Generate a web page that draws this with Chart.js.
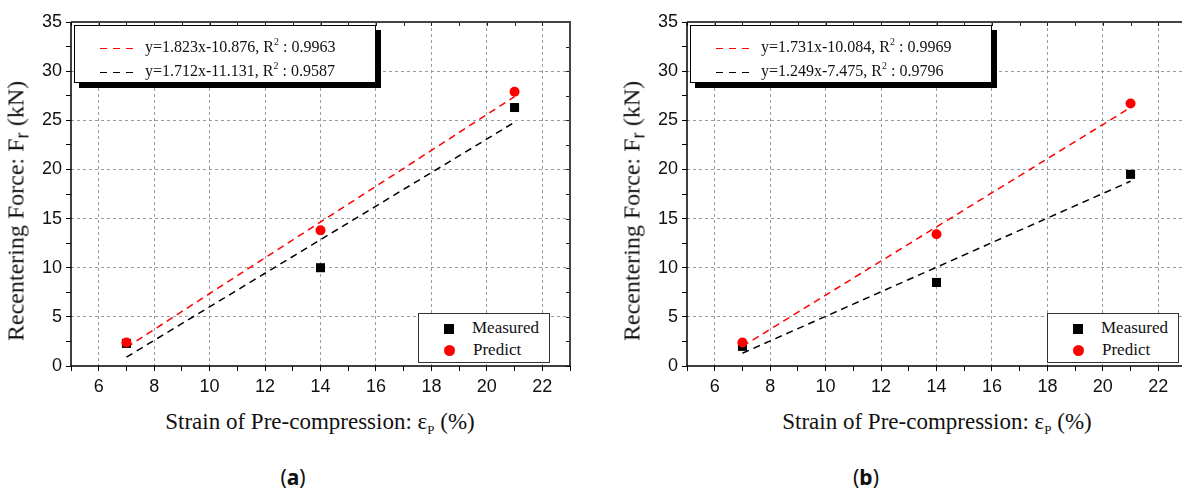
<!DOCTYPE html>
<html>
<head>
<meta charset="utf-8">
<script src="https://cdn.jsdelivr.net/npm/chart.js@4.4.1/dist/chart.umd.min.js"></script>
<style>
    html, body { margin: 0; padding: 0; background: #fff; }
    body { width: 1182px; height: 489px; position: relative; overflow: hidden; }
    canvas { position: absolute; top: 0; }
    #chart-a { left: 0; }
    #chart-b { left: 616px; }
    .title { position: absolute; white-space: nowrap; font-family: "Liberation Serif", "Times New Roman", serif; color: #111; transform: translate(-50%, -50%); }
    .title sub { font-size: 13px; vertical-align: -5px; }
    .ytitle { font-size: 24px; transform: translate(-50%, -50%) rotate(-90deg); }
    .ytitle sub { font-size: 19px; vertical-align: -5px; font-family: "Liberation Sans", sans-serif; }
    .xtitle { font-size: 23px; }
    .panel { position: absolute; font-family: "Noto Sans", sans-serif; font-size: 21px; color: #111; transform: translate(-50%, -50%); }
    .fit-box { position: absolute; height: 56px; background: #fff; border: 1px solid #000; box-shadow: 5px 5px 0 #000; font-family: "Liberation Serif", "Times New Roman", serif; font-size: 16px; color: #111; }
    .fit-row { position: absolute; left: 25px; white-space: nowrap; }
    .fit-row .dash { display: inline-block; width: 33px; height: 1.5px; vertical-align: middle; margin-right: 12px; }
    .fit-row sup { font-size: 10px; vertical-align: 7px; }
    .mark-box { position: absolute; width: 130px; height: 48px; background: #fff; border: 1px solid #333; font-family: "Liberation Serif", "Times New Roman", serif; font-size: 17px; color: #111; }
    .mark-row { position: absolute; left: 25px; white-space: nowrap; }
    .mark-row span.m { display: inline-block; width: 10px; height: 10px; margin-right: 18px; vertical-align: -1px; }
</style>
</head>
<body>
<canvas id="chart-a" width="600" height="400"></canvas>
<canvas id="chart-b" width="600" height="400"></canvas>

<div class="title ytitle" style="left:18px; top:211px;">Recentering Force: F<sub>r</sub> (kN)</div>
<div class="title ytitle" style="left:634px; top:211px;">Recentering Force: F<sub>r</sub> (kN)</div>
<div class="title xtitle" style="left:320px; top:423px;">Strain of Pre-compression: ε<sub>P</sub> (%)</div>
<div class="title xtitle" style="left:937px; top:423px;">Strain of Pre-compression: ε<sub>P</sub> (%)</div>
<div class="panel" style="left:293px; top:477px;">(<b>a</b>)</div>
<div class="panel" style="left:866px; top:477px;">(<b>b</b>)</div>

<div id="fit-a" class="fit-box" style="left:74px; top:25px; width:300px;"></div>
<div id="fit-b" class="fit-box" style="left:690px; top:25px; width:300px;"></div>
<div id="marks-a" class="mark-box" style="left:418px; top:313px;"></div>
<div id="marks-b" class="mark-box" style="left:1047px; top:313px;"></div>

<script>
const strain = [7, 14, 21];

const measuredA = [2.3, 10.0, 26.3];
const predictA = [2.4, 13.8, 27.9];
const measuredB = [2.0, 8.5, 19.5];
const predictB = [2.4, 13.4, 26.7];

// end points of the dashed fit lines
const fitX = [7, 21];
const fitPredictA = [1.9, 27.4];
const fitMeasuredA = [0.9, 24.8];
const fitPredictB = [2.0, 26.3];
const fitMeasuredB = [1.3, 18.8];

const fitLabelsA = ['y=1.823x-10.876, R<sup>2</sup> : 0.9963', 'y=1.712x-11.131, R<sup>2</sup> : 0.9587'];
const fitLabelsB = ['y=1.731x-10.084, R<sup>2</sup> : 0.9969', 'y=1.249x-7.475, R<sup>2</sup> : 0.9796'];
const seriesNames = ['Measured', 'Predict'];

const xMin = 5, xMax = 23, xStep = 1;
const yMin = 0, yMax = 35, yStep = 2.5;

const RED = '#ff0000';
const BLACK = '#000000';

function toPoints(xs, ys) {
    return xs.map((x, i) => ({ x: x, y: ys[i] }));
}

const framePlugin = {
    id: 'frame',
    beforeDatasetsDraw(chart) {
        const ctx = chart.ctx;
        const a = chart.chartArea;
        const x = chart.scales.x;
        const y = chart.scales.y;
        ctx.save();
        // inner ticks on top and right
        ctx.strokeStyle = '#222';
        ctx.lineWidth = 1;
        ctx.beginPath();
        for (let v = xMin; v <= xMax; v += xStep) {
            const px = Math.round(x.getPixelForValue(v)) + 0.5;
            ctx.moveTo(px, a.top);
            ctx.lineTo(px, a.top + 4);
        }
        for (let v = yMin; v <= yMax; v += yStep) {
            const py = Math.round(y.getPixelForValue(v)) + 0.5;
            ctx.moveTo(a.right, py);
            ctx.lineTo(a.right - 4, py);
        }
        ctx.stroke();
        // frame
        ctx.strokeStyle = '#444';
        ctx.lineWidth = 2;
        ctx.beginPath();
        ctx.moveTo(a.left, a.top);
        ctx.lineTo(a.right, a.top);
        ctx.lineTo(a.right, a.bottom);
        ctx.stroke();
        ctx.strokeStyle = '#000';
        ctx.lineWidth = 1.5;
        ctx.beginPath();
        ctx.moveTo(a.left, a.top);
        ctx.lineTo(a.left, a.bottom);
        ctx.lineTo(a.right, a.bottom);
        ctx.stroke();
        ctx.restore();
    }
};

function makeChart(id, measured, predict, fitP, fitM) {
    return new Chart(document.getElementById(id), {
        type: 'scatter',
        data: {
            datasets: [
                {
                    label: seriesNames[1],
                    data: toPoints(strain, predict),
                    pointStyle: 'circle',
                    pointRadius: 5,
                    backgroundColor: RED,
                    borderColor: RED,
                    borderWidth: 0,
                    order: 0
                },
                {
                    label: seriesNames[0],
                    data: toPoints(strain, measured),
                    pointStyle: 'rect',
                    pointRadius: 6.4,
                    backgroundColor: BLACK,
                    borderColor: BLACK,
                    borderWidth: 0,
                    order: 1
                },
                {
                    label: 'fit predict',
                    data: toPoints(fitX, fitP),
                    showLine: true,
                    pointRadius: 0,
                    borderColor: RED,
                    borderWidth: 1.5,
                    borderDash: [7, 5],
                    order: 2
                },
                {
                    label: 'fit measured',
                    data: toPoints(fitX, fitM),
                    showLine: true,
                    pointRadius: 0,
                    borderColor: BLACK,
                    borderWidth: 1.5,
                    borderDash: [7, 5],
                    order: 3
                }
            ]
        },
        options: {
            responsive: false,
            animation: false,
            layout: { padding: { top: 22, right: 30, left: 0, bottom: 0 } },
            plugins: { legend: { display: false }, tooltip: { enabled: false } },
            scales: {
                x: {
                    type: 'linear',
                    min: xMin,
                    max: xMax,
                    afterFit: s => { s.height = 34; },
                    ticks: {
                        stepSize: xStep,
                        autoSkip: false,
                        maxRotation: 0,
                        padding: 5,
                        color: '#111',
                        font: { family: 'Liberation Sans', size: 18 },
                        callback: v => (v % 2 === 0 ? v : '')
                    },
                    grid: {
                        color: c => (c.tick && c.tick.value % 2 === 0 ? '#9a9a9a' : 'transparent'),
                        tickColor: '#000',
                        tickLength: 5,
                        lineWidth: 1
                    },
                    border: { display: false, dash: [3, 3] }
                },
                y: {
                    type: 'linear',
                    min: yMin,
                    max: yMax,
                    afterFit: s => { s.width = 71; },
                    ticks: {
                        stepSize: yStep,
                        autoSkip: false,
                        padding: 4,
                        color: '#111',
                        font: { family: 'Liberation Sans', size: 18 },
                        callback: v => (v % 5 === 0 ? v : '')
                    },
                    grid: {
                        color: c => {
                            const v = c.tick ? c.tick.value : -1;
                            return (v % 5 === 0 && v !== yMin && v !== yMax) ? '#9a9a9a' : 'transparent';
                        },
                        tickColor: '#000',
                        tickLength: 5,
                        lineWidth: 1
                    },
                    border: { display: false, dash: [3, 3] }
                }
            }
        },
        plugins: [framePlugin]
    });
}

function fillFitBox(id, labels) {
    const colors = [RED, BLACK];
    const tops = [10, 34];
    document.getElementById(id).innerHTML = labels.map((text, i) =>
        `<div class="fit-row" style="top:${tops[i]}px;"><span class="dash" style="background:repeating-linear-gradient(to right, ${colors[i]} 0 7px, transparent 7px 13px);"></span>${text}</div>`
    ).join('');
}

function fillMarkBox(id) {
    document.getElementById(id).innerHTML =
        `<div class="mark-row" style="top:4px;"><span class="m" style="background:${BLACK};"></span>${seriesNames[0]}</div>` +
        `<div class="mark-row" style="top:26px;"><span class="m" style="background:${RED}; border-radius:50%; width:11px; height:11px;"></span>${seriesNames[1]}</div>`;
}

makeChart('chart-a', measuredA, predictA, fitPredictA, fitMeasuredA);
makeChart('chart-b', measuredB, predictB, fitPredictB, fitMeasuredB);
fillFitBox('fit-a', fitLabelsA);
fillFitBox('fit-b', fitLabelsB);
fillMarkBox('marks-a');
fillMarkBox('marks-b');
</script>
</body>
</html>
